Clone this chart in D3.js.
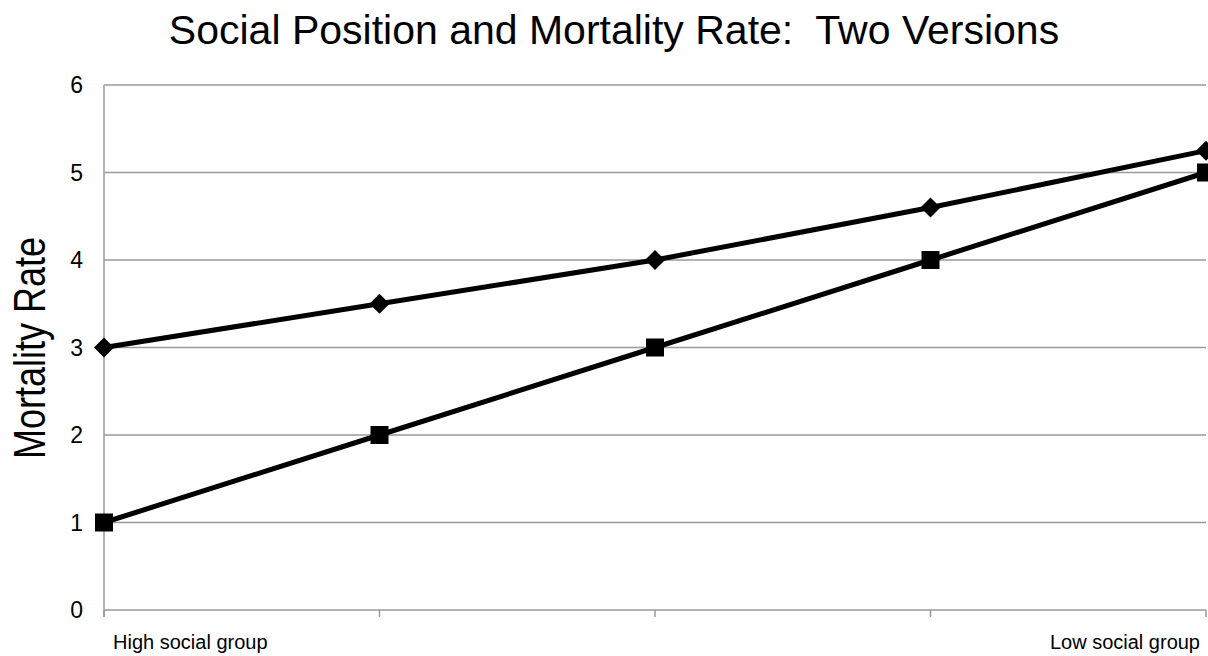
<!DOCTYPE html>
<html><head><meta charset="utf-8">
<script src="https://cdn.jsdelivr.net/npm/d3@7"></script>
<style>html,body{margin:0;padding:0;background:#fff;}svg{display:block;font-family:"Liberation Sans",Arial,sans-serif;}text{white-space:pre;}</style>
</head><body><svg id="c" width="1208" height="656"></svg>
<script>
const categories = ["High social group", "", "", "", "Low social group"];
const versionA = [3, 3.5, 4, 4.6, 5.25];   // diamonds
const versionB = [1, 2, 3, 4, 5];          // squares
const yTicks = [0, 1, 2, 3, 4, 5, 6];
const title = "Social Position and Mortality Rate:  Two Versions";
const yLabel = "Mortality Rate";

const svg = d3.select("#c");
const L = 104, R = 1206, T = 85, B = 610;
const x = d3.scalePoint().domain(d3.range(categories.length)).range([L, R]);
const y = d3.scaleLinear().domain([0, 6]).range([B, T]);
const grid = "#9a9a9a";

// gridlines
svg.append("g").selectAll("line").data(yTicks).join("line")
  .attr("x1", L).attr("x2", R).attr("y1", d => y(d)).attr("y2", d => y(d))
  .attr("stroke", grid).attr("stroke-width", 1.5);
// y axis line
svg.append("line").attr("x1", L).attr("x2", L).attr("y1", T).attr("y2", B + 7)
  .attr("stroke", grid).attr("stroke-width", 1.5);
// x ticks
svg.append("g").selectAll("line").data(d3.range(categories.length)).join("line")
  .attr("x1", d => x(d)).attr("x2", d => x(d)).attr("y1", B).attr("y2", B + 7)
  .attr("stroke", grid).attr("stroke-width", 1.5);
// y tick labels
svg.append("g").selectAll("text").data(yTicks).join("text")
  .attr("x", 83).attr("y", d => y(d)).attr("dy", "0.36em")
  .attr("text-anchor", "end").attr("font-size", 23).attr("fill", "#000")
  .text(d => d);
// x labels
categories.forEach((c, i) => {
  if (!c) return;
  const first = i === 0;
  svg.append("text").attr("x", first ? x(i) + 9 : x(i) - 6).attr("y", 649)
    .attr("text-anchor", first ? "start" : "end")
    .attr("font-size", 20).attr("fill", "#000").text(c);
});
// title
svg.append("text").attr("x", 614).attr("y", 44).attr("text-anchor", "middle")
  .attr("xml:space", "preserve")
  .attr("font-size", 41).attr("fill", "#000").text(title);
// y label
svg.append("text").attr("transform", "translate(45,348) scale(1.22,1) rotate(-90)")
  .attr("text-anchor", "middle").attr("font-size", 36).attr("fill", "#000").text(yLabel);

const line = d3.line().x((d, i) => x(i)).y(d => y(d));
[versionA, versionB].forEach(s => {
  svg.append("path").datum(s).attr("d", line).attr("fill", "none")
    .attr("stroke", "#000").attr("stroke-width", 5).attr("stroke-linejoin", "round");
});
// diamonds
svg.append("g").selectAll("path").data(versionA).join("path")
  .attr("transform", (d, i) => `translate(${x(i)},${y(d)})`)
  .attr("d", "M0,-10L10,0L0,10L-10,0Z").attr("fill", "#000");
// squares
svg.append("g").selectAll("rect").data(versionB).join("rect")
  .attr("x", (d, i) => x(i) - 9).attr("y", d => y(d) - 9)
  .attr("width", 18).attr("height", 18).attr("fill", "#000");
</script></body></html>
